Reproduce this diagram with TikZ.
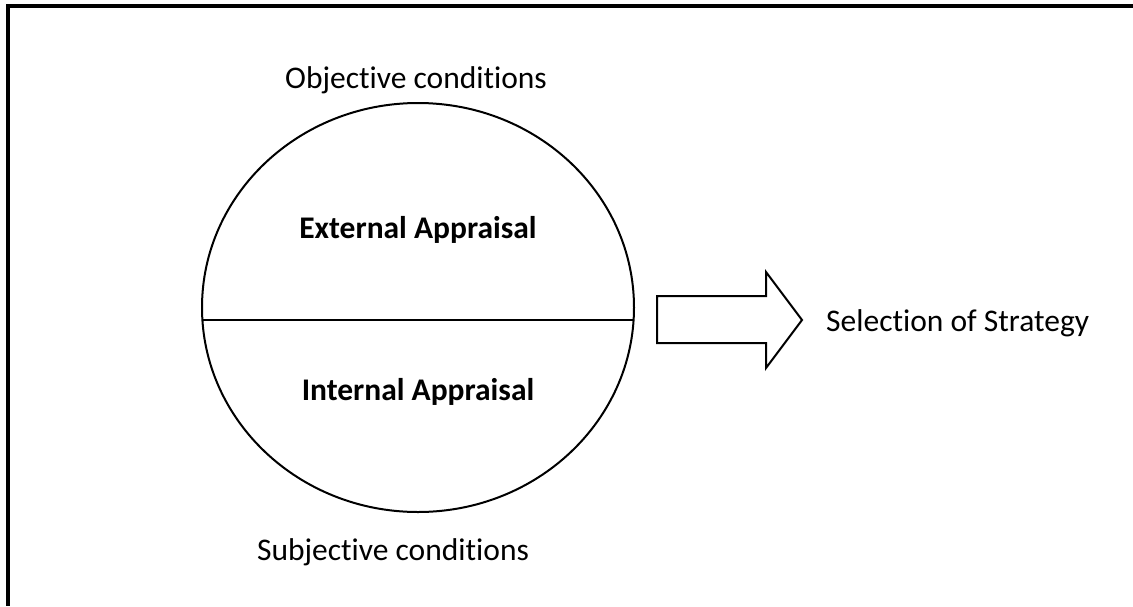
\documentclass[tikz,border=0pt]{standalone}
\usepackage{fontspec}
\setmainfont{Carlito}[Ligatures={NoCommon,NoRequired,NoContextual}]
\usetikzlibrary{shapes.geometric}
\newcommand{\nolig}{\kern0pt }
\begin{document}
\begin{tikzpicture}[x=1pt,y=-1pt,
  lbl/.style={font=\fontsize{31.5}{38}\selectfont, inner sep=0pt},
  blbl/.style={font=\fontsize{31.5}{38}\selectfont\bfseries, inner sep=0pt},
  thin line/.style={line width=2pt}]
\useasboundingbox (0,0) rectangle (1133,606);
% frame (top and left edges)
\coordinate (ftr) at (1133,5.5);
\coordinate (ftl) at (7.5,5.5);
\coordinate (fbl) at (7.5,606);
\draw[line width=4pt] (ftr) -- (ftl) -- (fbl);
% ellipse
\node[draw, thin line, ellipse, minimum width=432, minimum height=409, inner sep=0pt] (circ) at (418,307.5) {};
\coordinate (hl) at (202.4,320);
\coordinate (hr) at (633.6,320);
\draw[thin line] (hl) -- (hr);
% labels
\node[lbl, anchor=base] (obj) at (416,88) {Objective conditions};
\node[blbl, anchor=base] (ext) at (418,238) {External Appraisal};
\node[blbl, anchor=base] (int) at (418,400) {Internal Appraisal};
\node[lbl, anchor=base] (subj) at (393,560) {Subjective conditions};
\node[lbl, anchor=base west] (sel) at (826,331) {Selection of Strategy};
% block arrow
\coordinate (a1) at (657,296);
\coordinate (a2) at (766,296);
\coordinate (a3) at (766,272);
\coordinate (a4) at (802,320);
\coordinate (a5) at (766,368);
\coordinate (a6) at (766,343);
\coordinate (a7) at (657,343);
\draw[thin line, line join=miter] (a1) -- (a2) -- (a3) -- (a4) -- (a5) -- (a6) -- (a7) -- cycle;
\end{tikzpicture}
\end{document}
